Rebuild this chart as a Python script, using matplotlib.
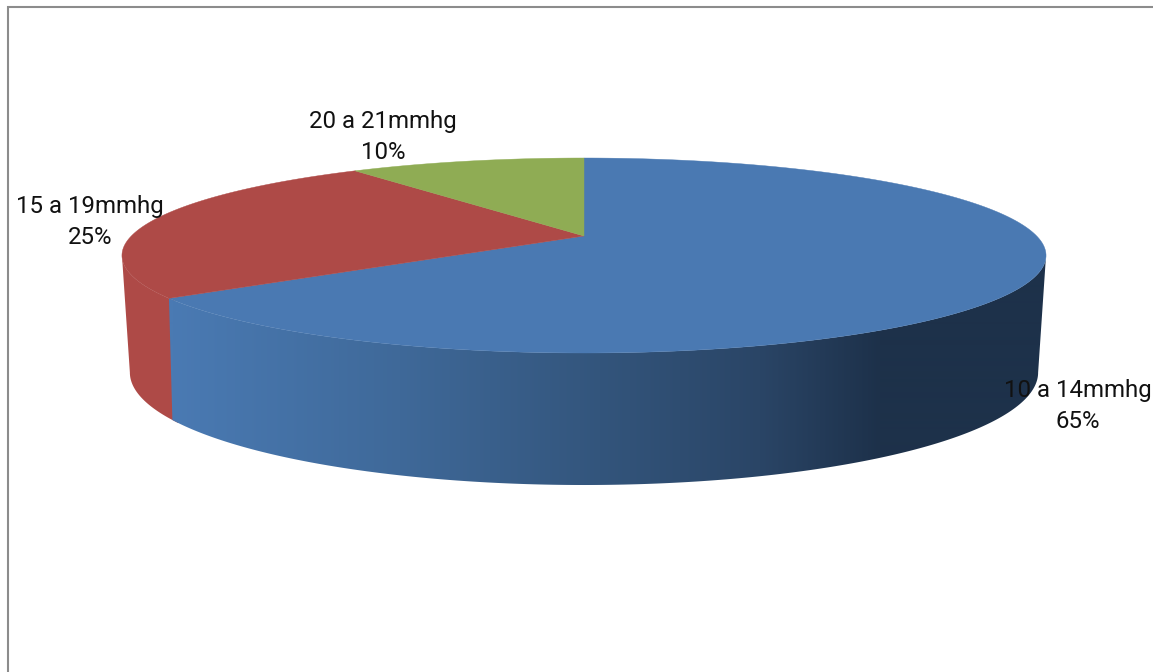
import numpy as np
from matplotlib import pyplot as plt
from matplotlib.patches import Polygon

categories = ["10 a 14mmhg", "15 a 19mmhg", "20 a 21mmhg"]
percent = [65, 25, 10]
colors = ["#4A79B2", "#AE4A47", "#8FAC54"]

W, H = 1153, 672
cx = 584
# top and bottom face of the disc: y of centre, half-sizes, perspective
top_face = (236, 452.7, 93.6, 0.2)
bot_face = (347.7, 443, 107.1, 0.22)


def project(theta, face):
    """theta in degrees, clockwise from 12 o'clock, to pixel coords"""
    y0, A, B, k = face
    u = np.sin(np.radians(theta))
    v = np.cos(np.radians(theta))
    return cx + A * u / (1 + k * v), y0 - B * v / (1 + k * v)


def arc(t0, t1, face, n=200):
    x, y = project(np.linspace(t0, t1, n), face)
    return np.column_stack([x, y])


def widest(face):
    # angle where the face reaches its right edge
    return np.degrees(np.arccos(-face[3]))


fig = plt.figure(figsize=(W / 100, H / 100), dpi=100)
ax = fig.add_axes([0, 0, 1, 1])

# frame, only top and left are in view
ax.plot([8, 8, W], [H, 7, 7], color="#8C8C8C", lw=1.5, solid_joinstyle='miter')

edges = np.concatenate([[0], np.cumsum(percent)]) * 360 / np.sum(percent)

# rim of the second slice, up to the left silhouette
# starts a bit early so no white seam shows under the first rim
rim2 = np.vstack([arc(edges[1] - 1.5, 360 - widest(top_face), top_face),
                  arc(360 - widest(bot_face), edges[1] - 1.5, bot_face)])
ax.fill(rim2[:, 0], rim2[:, 1], color=colors[1], lw=0, zorder=1)

# rim of the first slice, horizontal gradient clipped to its outline
rim1 = np.vstack([arc(widest(top_face), edges[1], top_face),
                  arc(edges[1], widest(bot_face), bot_face)])
xs = np.arange(0, W)
stops = [173, 400, 600, 760, 880, 1046]
grad = np.stack([np.interp(xs, stops, [0x4A, 0x3F, 0x33, 0x2A, 0x1D, 0x1D]),
                 np.interp(xs, stops, [0x7A, 0x69, 0x55, 0x45, 0x31, 0x31]),
                 np.interp(xs, stops, [0xB3, 0x99, 0x7C, 0x66, 0x4A, 0x4A])], axis=-1) / 255
im = ax.imshow(grad[np.newaxis, :, :], extent=(0, W, H, 0), aspect='auto',
               interpolation='bilinear', zorder=2)
im.set_clip_path(Polygon(rim1, closed=True, transform=ax.transData))

# top faces
apex = (cx, top_face[0])
for i in range(len(percent)):
    pts = np.vstack([[apex], arc(edges[i], edges[i + 1], top_face)])
    ax.fill(pts[:, 0], pts[:, 1], color=colors[i], lw=0.3, zorder=3)

# labels
label_pos = [(1078, 406), (90, 222), (383, 137)]
for name, p, (x, y) in zip(categories, percent, label_pos):
    ax.text(x, y, f"{name}\n{p}%", ha='center', va='center', fontsize=17.3,
            family='Roboto', color='#111111', linespacing=1.45, zorder=4)

ax.set_xlim(0, W)
ax.set_ylim(H, 0)
ax.axis('off')

fig.savefig("out.png", dpi=100)
